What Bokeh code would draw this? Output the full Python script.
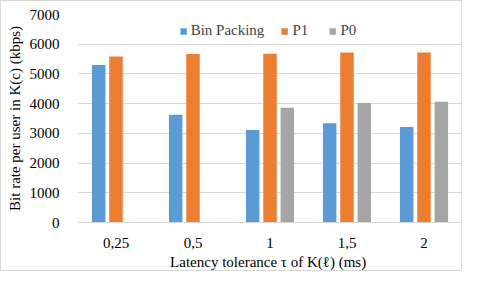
from bokeh.plotting import figure
from bokeh.models import ColumnDataSource, FactorRange, Legend, LegendItem, SingleIntervalTicker
from bokeh.transform import dodge
from bokeh.embed import file_html
from bokeh.resources import INLINE

categories = ["0,25", "0,5", "1", "1,5", "2"]
bin_packing = [5300, 3630, 3110, 3340, 3210]
p1 = [5590, 5670, 5680, 5720, 5720]
p0 = [float("nan"), float("nan"), 3860, 4020, 4060]

series_names = ["Bin Packing", "P1", "P0"]
colors = ["#5B9BD5", "#ED7D31", "#A5A5A5"]

src = ColumnDataSource(data=dict(cat=categories, bp=bin_packing, p1=p1, p0=p0))

FONT = "Liberation Serif"

p = figure(x_range=FactorRange(*categories), y_range=(0, 7000),
           width=462, height=271, output_backend="svg", toolbar_location=None,
           min_border_left=76, min_border_right=1, min_border_top=13, min_border_bottom=45,
           styles={"border": "1px solid #D9D9D9"})
p.x_range.range_padding = 0
p.outline_line_color = None

renderers = []
for key, off, col in zip(["bp", "p1", "p0"], [-0.225, 0.0, 0.225], colors):
    r = p.vbar(x=dodge("cat", off, range=p.x_range), top=key, width=0.175,
               source=src, fill_color=col, line_color=None)
    renderers.append(r)

p.yaxis.ticker = SingleIntervalTicker(interval=1000)
p.ygrid.grid_line_color = "#D9D9D9"
p.xgrid.grid_line_color = None

for ax in (p.xaxis[0], p.yaxis[0]):
    ax.major_tick_line_color = None
    ax.minor_tick_line_color = None
    ax.major_label_text_font = FONT
    ax.major_label_text_font_size = "15px"
    ax.major_label_text_color = "#000000"
    ax.axis_label_text_font = FONT
    ax.axis_label_text_font_size = "15px"
    ax.axis_label_text_font_style = "normal"
    ax.axis_label_text_color = "#000000"

p.yaxis.axis_line_color = None
p.xaxis.axis_line_color = "#D9D9D9"
p.yaxis.major_label_standoff = 12
p.xaxis.major_label_standoff = 9
p.yaxis.axis_label = "Bit rate per user in K(c) (kbps)"
p.xaxis.axis_label = "Latency tolerance  τ of K(ℓ) (ms)"
p.yaxis.axis_label_standoff = 4
p.xaxis.axis_label_standoff = 3

legend = Legend(items=[LegendItem(label=n, renderers=[r]) for n, r in zip(series_names, renderers)],
                orientation="horizontal", location="top_center",
                label_text_font=FONT, label_text_font_size="15px",
                glyph_width=8, glyph_height=8, spacing=16, label_standoff=4,
                background_fill_alpha=0, border_line_color=None, margin=8, padding=2)
p.add_layout(legend, "center")

open("out.html", "w").write(file_html(p, INLINE))
